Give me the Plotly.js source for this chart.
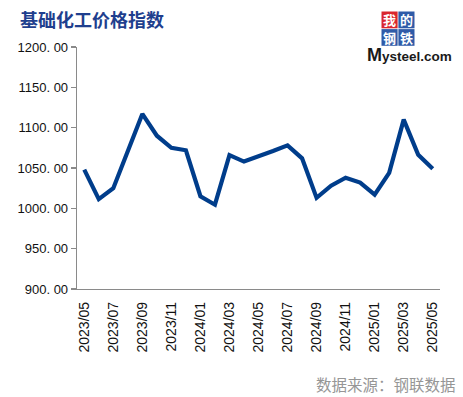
<!DOCTYPE html>
<html>
<head>
<meta charset="utf-8">
<script src="https://cdn.plot.ly/plotly-3.0.1.min.js"></script>
<style>html,body{margin:0;padding:0;background:#fff;}#chart{width:463px;height:397px;}</style>
</head>
<body>
<div id="chart"></div>
<script>
// ---- data ----
const months = ["2023/05","2023/06","2023/07","2023/08","2023/09","2023/10","2023/11","2023/12",
  "2024/01","2024/02","2024/03","2024/04","2024/05","2024/06","2024/07","2024/08","2024/09",
  "2024/10","2024/11","2024/12","2025/01","2025/02","2025/03","2025/04","2025/05"];
const priceIndex = [1048,1011.5,1025,1071,1117,1090,1075,1072,1015,1004.5,1066,1058,1064,
  1071,1078,1062,1013,1028,1038,1032,1017,1044,1110,1066.5,1049];
const yTickVals = [900,950,1000,1050,1100,1150,1200];
const yTickText = ["900. 00","950. 00","1000. 00","1050. 00","1100. 00","1150. 00","1200. 00"];
const titleText = "基础化工价格指数";
const sourceText = "数据来源：钢联数据";

// ---- layout helpers ----
const W = 463, H = 397, L = 77, R = 23, T = 47, B = 108;
const PW = W - L - R, PH = H - T - B;
const px = x => (x - L) / PW;
const py = y => (H - B - y) / PH;

const xLabelVals = months.filter((m, i) => i % 2 === 0);
const boundaryTicks = months.map((m, i) => i - 0.5).filter((v, i) => i % 2 === 0);

const trace = {
  x: months, y: priceIndex, type: 'scatter', mode: 'lines',
  line: {color: '#003d8b', width: 4.2, shape: 'linear'},
  hoverinfo: 'x+y'
};

const logoBoxes = [
  {x0: 381.5, x1: 397.6, y0: 11.5, y1: 28.3, c: '#d9272e', t: '我'},
  {x0: 398.4, x1: 414.5, y0: 11.5, y1: 28.3, c: '#2f5ba8', t: '的'},
  {x0: 381.5, x1: 397.6, y0: 29.1, y1: 45.8, c: '#2f5ba8', t: '钢'},
  {x0: 398.4, x1: 414.5, y0: 29.1, y1: 45.8, c: '#2f5ba8', t: '铁'}
];

const shapes = logoBoxes.map(b => ({
  type: 'rect', xref: 'paper', yref: 'paper',
  x0: px(b.x0), x1: px(b.x1), y0: py(b.y1), y1: py(b.y0),
  fillcolor: b.c, line: {width: 0}
}));

const annotations = logoBoxes.map(b => ({
  xref: 'paper', yref: 'paper', x: px((b.x0 + b.x1) / 2), y: py((b.y0 + b.y1) / 2),
  xanchor: 'center', yanchor: 'middle', showarrow: false, text: b.t,
  font: {family: 'Noto Sans CJK SC', size: 13, color: '#ffffff', weight: 'bold'}
}));

annotations.push({
  xref: 'paper', yref: 'paper', x: px(409), y: py(55), xanchor: 'center', yanchor: 'middle',
  showarrow: false,
  text: '<span style="font-size:18px">M</span>ysteel.com',
  font: {family: 'Liberation Sans, Arial, sans-serif', size: 13.5, color: '#1a1a1a', weight: 'bold'}
});

annotations.push({
  xref: 'paper', yref: 'paper', x: px(458), y: py(384), xanchor: 'right', yanchor: 'middle',
  showarrow: false, text: sourceText,
  font: {family: 'Noto Sans CJK SC', size: 15.5, color: '#969696'}
});

const layout = {
  width: W, height: H,
  margin: {l: L, r: R, t: T, b: B, pad: 0},
  paper_bgcolor: '#ffffff', plot_bgcolor: '#ffffff',
  showlegend: false,
  title: {
    text: titleText, xref: 'container', yref: 'container',
    x: 20 / W, xanchor: 'left', y: 1 - 21 / H, yanchor: 'middle',
    font: {family: 'Noto Sans CJK SC', size: 18, color: '#1f3f8e', weight: 'bold'}
  },
  xaxis: {
    type: 'category', range: [-0.5, months.length - 0.5],
    tickmode: 'array', tickvals: xLabelVals, ticktext: xLabelVals,
    tickangle: -90, ticks: 'outside', ticklen: 6, tickcolor: 'rgba(0,0,0,0)',
    tickfont: {family: 'Liberation Sans, Arial, sans-serif', size: 14, color: '#111111'},
    showline: true, linecolor: '#8a8a8a', linewidth: 1.3,
    showgrid: false, zeroline: false, fixedrange: true
  },
  xaxis2: {
    type: 'linear', overlaying: 'x', anchor: 'y', side: 'bottom',
    range: [-0.5, months.length - 0.5],
    tickmode: 'array', tickvals: boundaryTicks, ticks: 'outside', ticklen: 5,
    tickcolor: '#8a8a8a', tickwidth: 1.3, showticklabels: false,
    showline: false, showgrid: false, zeroline: false, fixedrange: true
  },
  yaxis: {
    range: [900, 1200], tickmode: 'array', tickvals: yTickVals, ticktext: yTickText,
    ticks: 'outside', ticklen: 5, tickcolor: '#8a8a8a', tickwidth: 1.3,
    tickfont: {family: 'Liberation Sans, Arial, sans-serif', size: 13, color: '#111111'},
    showline: true, linecolor: '#8a8a8a', linewidth: 1.3,
    showgrid: false, zeroline: false, fixedrange: true
  },
  shapes: shapes,
  annotations: annotations
};

Plotly.newPlot('chart', [trace], layout, {displayModeBar: false, staticPlot: true});
</script>
</body>
</html>
